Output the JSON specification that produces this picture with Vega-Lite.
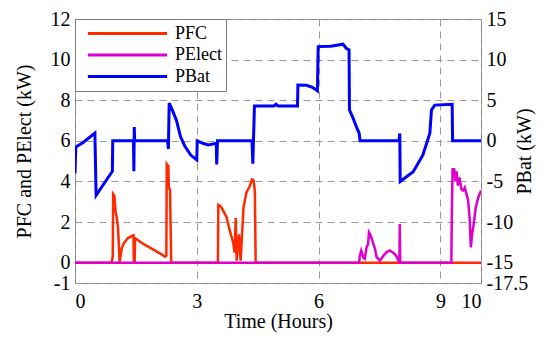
{
  "$schema": "https://vega.github.io/schema/vega-lite/v6.json",
  "width": 406,
  "height": 264,
  "autosize": {"type": "none"},
  "padding": {"left": 75, "top": 19, "right": 69, "bottom": 59},
  "background": "white",
  "config": {
    "font": "Liberation Serif",
    "view": {"stroke": "#808080", "strokeWidth": 1},
    "axis": {
      "labelFontSize": 20, "titleFontSize": 20,
      "labelColor": "black", "titleColor": "black", "titleFontWeight": 400, "labelFontWeight": 400,
      "domain": false, "ticks": false,
      "gridColor": "#9a9a9a", "gridDash": [7, 5], "gridWidth": 1
    },
    "legend": {
      "labelFont": "Liberation Serif", "labelFontSize": 18, "labelColor": "black"
    }
  },
  "datasets": {
    "fc": [
      {"t": 0, "p": 0}, {"t": 0.9, "p": 0}, {"t": 0.93, "p": 0.3}, {"t": 0.94, "p": 3.38},
      {"t": 0.97, "p": 3.3}, {"t": 1.0, "p": 2.5}, {"t": 1.03, "p": 2.2}, {"t": 1.06, "p": 1.7},
      {"t": 1.08, "p": 0.9}, {"t": 1.1, "p": 0}, {"t": 1.12, "p": 0.3}, {"t": 1.15, "p": 0.7},
      {"t": 1.2, "p": 0.95}, {"t": 1.3, "p": 1.2}, {"t": 1.4, "p": 1.32}, {"t": 1.44, "p": 1.35},
      {"t": 1.45, "p": 0}, {"t": 1.47, "p": 0}, {"t": 1.48, "p": 1.2}, {"t": 1.52, "p": 1.15},
      {"t": 1.7, "p": 0.9}, {"t": 1.9, "p": 0.68}, {"t": 2.1, "p": 0.45}, {"t": 2.22, "p": 0.3},
      {"t": 2.25, "p": 0.35}, {"t": 2.26, "p": 4.86}, {"t": 2.3, "p": 4.75}, {"t": 2.31, "p": 3.7},
      {"t": 2.34, "p": 3.6}, {"t": 2.37, "p": 0}, {"t": 3.52, "p": 0}, {"t": 3.53, "p": 2.85},
      {"t": 3.6, "p": 2.75}, {"t": 3.73, "p": 2.26}, {"t": 3.81, "p": 1.6}, {"t": 3.9, "p": 0.96},
      {"t": 3.93, "p": 0.5}, {"t": 3.96, "p": 2.2}, {"t": 3.98, "p": 0.1}, {"t": 4.04, "p": 1.4},
      {"t": 4.08, "p": 0.1}, {"t": 4.12, "p": 1.6}, {"t": 4.15, "p": 2.7}, {"t": 4.22, "p": 3.45},
      {"t": 4.3, "p": 3.75}, {"t": 4.36, "p": 4.1}, {"t": 4.4, "p": 4.05}, {"t": 4.43, "p": 3.5},
      {"t": 4.45, "p": 0}, {"t": 10, "p": 0}
    ],
    "el": [
      {"t": 0, "p": 0}, {"t": 7.0, "p": 0}, {"t": 7.01, "p": 0.3}, {"t": 7.05, "p": 0.6},
      {"t": 7.1, "p": 0.26}, {"t": 7.14, "p": 0.2}, {"t": 7.18, "p": 0.75}, {"t": 7.22, "p": 0.92},
      {"t": 7.24, "p": 1.5}, {"t": 7.27, "p": 1.4}, {"t": 7.31, "p": 1.17}, {"t": 7.35, "p": 0.92},
      {"t": 7.39, "p": 0.67}, {"t": 7.43, "p": 0.26}, {"t": 7.47, "p": 0.2}, {"t": 7.51, "p": 0.1},
      {"t": 7.6, "p": 0.35}, {"t": 7.67, "p": 0.51}, {"t": 7.75, "p": 0.6}, {"t": 7.83, "p": 0.5},
      {"t": 7.91, "p": 0.35}, {"t": 7.97, "p": 0.1}, {"t": 7.99, "p": 0}, {"t": 8.0, "p": 1.9},
      {"t": 8.01, "p": 0}, {"t": 9.27, "p": 0}, {"t": 9.28, "p": 2.2}, {"t": 9.3, "p": 4.6},
      {"t": 9.34, "p": 4.6}, {"t": 9.37, "p": 4.0}, {"t": 9.4, "p": 4.5}, {"t": 9.43, "p": 3.8},
      {"t": 9.47, "p": 4.2}, {"t": 9.52, "p": 3.6}, {"t": 9.56, "p": 3.55}, {"t": 9.6, "p": 3.7},
      {"t": 9.64, "p": 3.4}, {"t": 9.68, "p": 3.1}, {"t": 9.72, "p": 2.2}, {"t": 9.74, "p": 1.2},
      {"t": 9.75, "p": 0.75}, {"t": 9.78, "p": 1.4}, {"t": 9.82, "p": 1.9}, {"t": 9.87, "p": 2.7},
      {"t": 9.93, "p": 3.2}, {"t": 10.0, "p": 3.55}
    ],
    "bat": [
      {"t": 0, "p": -4.0}, {"t": 0.02, "p": -0.75}, {"t": 0.2, "p": -0.2}, {"t": 0.49, "p": 0.95},
      {"t": 0.52, "p": -6.7}, {"t": 0.9, "p": -3.9}, {"t": 0.92, "p": -3.75}, {"t": 0.93, "p": 0},
      {"t": 1.44, "p": 0}, {"t": 1.45, "p": -3.75}, {"t": 1.46, "p": 1.7}, {"t": 1.47, "p": 0},
      {"t": 2.28, "p": 0}, {"t": 2.3, "p": -1.0}, {"t": 2.32, "p": 4.65}, {"t": 2.4, "p": 3.75},
      {"t": 2.5, "p": 2.5}, {"t": 2.6, "p": 0.5}, {"t": 2.7, "p": -0.6}, {"t": 2.85, "p": -1.75},
      {"t": 3.0, "p": -2.35}, {"t": 3.01, "p": 0}, {"t": 3.15, "p": -0.3}, {"t": 3.28, "p": -0.5},
      {"t": 3.48, "p": -0.3}, {"t": 3.49, "p": -2.9}, {"t": 3.51, "p": 0}, {"t": 4.36, "p": 0},
      {"t": 4.38, "p": -2.8}, {"t": 4.42, "p": 4.3}, {"t": 4.9, "p": 4.3}, {"t": 4.95, "p": 4.5},
      {"t": 5.0, "p": 4.3}, {"t": 5.48, "p": 4.3}, {"t": 5.49, "p": 6.88}, {"t": 5.7, "p": 6.85},
      {"t": 5.85, "p": 6.6}, {"t": 5.97, "p": 6.15}, {"t": 5.99, "p": 11.6}, {"t": 6.3, "p": 11.65},
      {"t": 6.6, "p": 11.9}, {"t": 6.68, "p": 11.4}, {"t": 6.75, "p": 11.2}, {"t": 6.76, "p": 3.8},
      {"t": 6.85, "p": 2.78}, {"t": 6.93, "p": 1.75}, {"t": 7.0, "p": 0.93}, {"t": 7.02, "p": 0},
      {"t": 7.98, "p": 0}, {"t": 8.0, "p": 0.9}, {"t": 8.01, "p": -5.0}, {"t": 8.33, "p": -3.8},
      {"t": 8.57, "p": -1.74}, {"t": 8.74, "p": 0.94}, {"t": 8.78, "p": 3.8}, {"t": 8.86, "p": 4.4},
      {"t": 9.29, "p": 4.5}, {"t": 9.3, "p": 0}, {"t": 10, "p": 0}
    ]
  },
  "layer": [
    {
      "layer": [
        {
          "data": {"name": "fc"},
          "mark": {"type": "line", "strokeWidth": 2.5, "clip": true},
          "encoding": {
            "x": {"field": "t", "type": "quantitative", "scale": {"domain": [0, 10], "nice": false, "zero": false},
                  "axis": {"values": [0, 3, 6, 9, 10], "title": "Time (Hours)", "grid": true, "labelPadding": 8, "titlePadding": 0, "labelExpr": "'' + datum.value", "labelFont": "serif", "titleFont": "serif"}},
            "y": {"field": "p", "type": "quantitative", "scale": {"domain": [-1, 12], "nice": false, "zero": false},
                  "axis": {"orient": "left", "values": [-1, 0, 2, 4, 6, 8, 10, 12], "grid": true, "title": "PFC  and PElect  (kW)", "labelPadding": 5, "titlePadding": 16, "labelExpr": "'' + datum.value", "labelFont": "Liberation Serif", "titleFont": "Liberation Serif"}},
            "color": {"datum": "PFC", "type": "nominal",
                      "scale": {"domain": ["PFC", "PElect", "PBat"], "range": ["#ff2a00", "#dd00cc", "#0000ff"]},
                      "legend": {"orient": "top-left", "offset": 0, "title": null, "symbolType": "stroke", "symbolSize": 6272, "symbolStrokeWidth": 3, "symbolOffset": 7, "fillColor": "white", "strokeColor": "#808080", "padding": 4, "clipHeight": 21, "rowPadding": 0.5, "labelOffset": 6}}
          }
        },
        {
          "data": {"name": "el"},
          "mark": {"type": "line", "strokeWidth": 2.5, "clip": true},
          "encoding": {
            "x": {"field": "t", "type": "quantitative", "scale": {"domain": [0, 10], "nice": false, "zero": false},
                  "axis": {"values": [0, 3, 6, 9, 10], "title": "Time (Hours)", "grid": true, "labelPadding": 8, "titlePadding": 0, "labelExpr": "'' + datum.value", "labelFont": "serif", "titleFont": "serif"}},
            "y": {"field": "p", "type": "quantitative", "scale": {"domain": [-1, 12], "nice": false, "zero": false},
                  "axis": {"orient": "left", "values": [-1, 0, 2, 4, 6, 8, 10, 12], "grid": true, "title": "PFC  and PElect  (kW)", "labelPadding": 5, "titlePadding": 16, "labelExpr": "'' + datum.value", "labelFont": "Liberation Serif", "titleFont": "Liberation Serif"}},
            "color": {"datum": "PElect", "type": "nominal"}
          }
        }
      ]
    },
    {
      "data": {"name": "bat"},
      "mark": {"type": "line", "strokeWidth": 3, "clip": true},
      "encoding": {
        "x": {"field": "t", "type": "quantitative", "scale": {"domain": [0, 10], "nice": false, "zero": false},
              "axis": {"values": [0, 3, 6, 9, 10], "title": "Time (Hours)", "grid": true, "labelPadding": 8, "titlePadding": 0, "labelExpr": "'' + datum.value", "labelFont": "serif", "titleFont": "serif"}},
        "y": {"field": "p", "type": "quantitative", "scale": {"domain": [-17.5, 15], "nice": false, "zero": false},
              "axis": {"orient": "right", "values": [-17.5, -15, -10, -5, 0, 5, 10, 15], "grid": false, "title": "PBat  (kW)", "titleAngle": -90, "labelPadding": 5, "titlePadding": 7, "labelExpr": "'' + datum.value", "labelFont": "Times New Roman", "titleFont": "Times New Roman"}},
        "color": {"datum": "PBat", "type": "nominal"}
      }
    }
  ],
  "resolve": {"scale": {"y": "independent"}}
}
